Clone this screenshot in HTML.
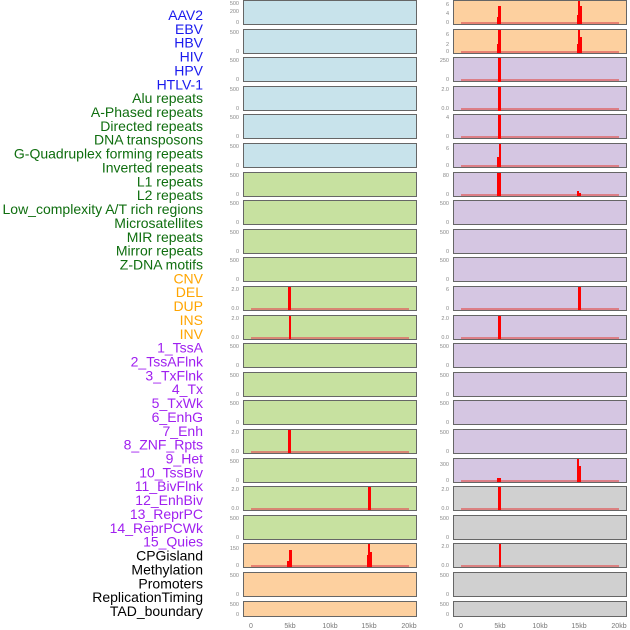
<!DOCTYPE html>
<html><head><meta charset="utf-8"><style>
html,body{margin:0;padding:0;background:#fff;}
svg{display:block;font-family:"Liberation Sans",sans-serif;}
.l{font-size:14px;text-anchor:end;}
.t{font-size:5.5px;fill:#888;text-anchor:end;}
.x{font-size:7px;fill:#777;text-anchor:middle;}
.b{fill:#c8e3eb}.o{fill:#fdd09f}.p{fill:#d5c6e2}.g{fill:#c7e1a0}.y{fill:#d0d0d0}
rect.pn{stroke:#666;stroke-width:1;}
.r{fill:#ff0000}
.bl{stroke:#e06060;stroke-width:2;opacity:.7}
</style></head><body>
<svg width="630" height="630" viewBox="0 0 630 630">
<g class="l">
<text x="203" y="20" fill="#1a1aee">AAV2</text>
<text x="203" y="33.9" fill="#1a1aee">EBV</text>
<text x="203" y="47.7" fill="#1a1aee">HBV</text>
<text x="203" y="61.6" fill="#1a1aee">HIV</text>
<text x="203" y="75.4" fill="#1a1aee">HPV</text>
<text x="203" y="89.3" fill="#1a1aee">HTLV-1</text>
<text x="203" y="103.2" fill="#0f6e0f">Alu repeats</text>
<text x="203" y="117" fill="#0f6e0f">A-Phased repeats</text>
<text x="203" y="130.9" fill="#0f6e0f">Directed repeats</text>
<text x="203" y="144.7" fill="#0f6e0f">DNA transposons</text>
<text x="203" y="158.6" fill="#0f6e0f">G-Quadruplex forming repeats</text>
<text x="203" y="172.5" fill="#0f6e0f">Inverted repeats</text>
<text x="203" y="186.3" fill="#0f6e0f">L1 repeats</text>
<text x="203" y="200.2" fill="#0f6e0f">L2 repeats</text>
<text x="203" y="214" fill="#0f6e0f">Low_complexity A/T rich regions</text>
<text x="203" y="227.9" fill="#0f6e0f">Microsatellites</text>
<text x="203" y="241.8" fill="#0f6e0f">MIR repeats</text>
<text x="203" y="255.6" fill="#0f6e0f">Mirror repeats</text>
<text x="203" y="269.5" fill="#0f6e0f">Z-DNA motifs</text>
<text x="203" y="283.3" fill="#ffa500">CNV</text>
<text x="203" y="297.2" fill="#ffa500">DEL</text>
<text x="203" y="311.1" fill="#ffa500">DUP</text>
<text x="203" y="324.9" fill="#ffa500">INS</text>
<text x="203" y="338.8" fill="#ffa500">INV</text>
<text x="203" y="352.6" fill="#a020f0">1_TssA</text>
<text x="203" y="366.5" fill="#a020f0">2_TssAFlnk</text>
<text x="203" y="380.4" fill="#a020f0">3_TxFlnk</text>
<text x="203" y="394.2" fill="#a020f0">4_Tx</text>
<text x="203" y="408.1" fill="#a020f0">5_TxWk</text>
<text x="203" y="421.9" fill="#a020f0">6_EnhG</text>
<text x="203" y="435.8" fill="#a020f0">7_Enh</text>
<text x="203" y="449.7" fill="#a020f0">8_ZNF_Rpts</text>
<text x="203" y="463.5" fill="#a020f0">9_Het</text>
<text x="203" y="477.4" fill="#a020f0">10_TssBiv</text>
<text x="203" y="491.2" fill="#a020f0">11_BivFlnk</text>
<text x="203" y="505.1" fill="#a020f0">12_EnhBiv</text>
<text x="203" y="519" fill="#a020f0">13_ReprPC</text>
<text x="203" y="532.8" fill="#a020f0">14_ReprPCWk</text>
<text x="203" y="546.7" fill="#a020f0">15_Quies</text>
<text x="203" y="560.5" fill="#000">CPGisland</text>
<text x="203" y="574.4" fill="#000">Methylation</text>
<text x="203" y="588.3" fill="#000">Promoters</text>
<text x="203" y="602.1" fill="#000">ReplicationTiming</text>
<text x="203" y="616" fill="#000">TAD_boundary</text>
</g>
<!-- panels: left x243 w173, right x453 w173 -->
<g>
<rect class="pn b" x="243.5" y="0.5" width="173" height="24"/><rect class="pn o" x="453.5" y="0.5" width="173" height="24"/>
<rect class="pn b" x="243.5" y="29.5" width="173" height="24"/><rect class="pn o" x="453.5" y="29.5" width="173" height="24"/>
<rect class="pn b" x="243.5" y="57.5" width="173" height="24"/><rect class="pn p" x="453.5" y="57.5" width="173" height="24"/>
<rect class="pn b" x="243.5" y="86.5" width="173" height="24"/><rect class="pn p" x="453.5" y="86.5" width="173" height="24"/>
<rect class="pn b" x="243.5" y="114.5" width="173" height="24"/><rect class="pn p" x="453.5" y="114.5" width="173" height="24"/>
<rect class="pn b" x="243.5" y="143.5" width="173" height="24"/><rect class="pn p" x="453.5" y="143.5" width="173" height="24"/>
<rect class="pn g" x="243.5" y="172.5" width="173" height="24"/><rect class="pn p" x="453.5" y="172.5" width="173" height="24"/>
<rect class="pn g" x="243.5" y="200.5" width="173" height="24"/><rect class="pn p" x="453.5" y="200.5" width="173" height="24"/>
<rect class="pn g" x="243.5" y="229.5" width="173" height="24"/><rect class="pn p" x="453.5" y="229.5" width="173" height="24"/>
<rect class="pn g" x="243.5" y="257.5" width="173" height="24"/><rect class="pn p" x="453.5" y="257.5" width="173" height="24"/>
<rect class="pn g" x="243.5" y="286.5" width="173" height="24"/><rect class="pn p" x="453.5" y="286.5" width="173" height="24"/>
<rect class="pn g" x="243.5" y="315.5" width="173" height="24"/><rect class="pn p" x="453.5" y="315.5" width="173" height="24"/>
<rect class="pn g" x="243.5" y="343.5" width="173" height="24"/><rect class="pn p" x="453.5" y="343.5" width="173" height="24"/>
<rect class="pn g" x="243.5" y="372.5" width="173" height="24"/><rect class="pn p" x="453.5" y="372.5" width="173" height="24"/>
<rect class="pn g" x="243.5" y="400.5" width="173" height="24"/><rect class="pn p" x="453.5" y="400.5" width="173" height="24"/>
<rect class="pn g" x="243.5" y="429.5" width="173" height="24"/><rect class="pn p" x="453.5" y="429.5" width="173" height="24"/>
<rect class="pn g" x="243.5" y="458.5" width="173" height="24"/><rect class="pn p" x="453.5" y="458.5" width="173" height="24"/>
<rect class="pn g" x="243.5" y="486.5" width="173" height="24"/><rect class="pn y" x="453.5" y="486.5" width="173" height="24"/>
<rect class="pn g" x="243.5" y="515.5" width="173" height="24"/><rect class="pn y" x="453.5" y="515.5" width="173" height="24"/>
<rect class="pn o" x="243.5" y="543.5" width="173" height="24"/><rect class="pn y" x="453.5" y="543.5" width="173" height="24"/>
<rect class="pn o" x="243.5" y="572.5" width="173" height="24"/><rect class="pn y" x="453.5" y="572.5" width="173" height="24"/>
<rect class="pn o" x="243.5" y="601.5" width="173" height="15"/><rect class="pn y" x="453.5" y="601.5" width="173" height="15"/>
</g>
<!-- baselines -->
<g class="bl">
<line x1="461" x2="619" y1="23" y2="23"/><line x1="461" x2="619" y1="52" y2="52"/>
<line x1="461" x2="619" y1="80" y2="80"/><line x1="461" x2="619" y1="109" y2="109"/>
<line x1="461" x2="619" y1="137" y2="137"/><line x1="461" x2="619" y1="166" y2="166"/>
<line x1="461" x2="619" y1="195" y2="195"/>
<line x1="251" x2="409" y1="309" y2="309"/><line x1="461" x2="619" y1="309" y2="309"/>
<line x1="251" x2="409" y1="338" y2="338"/><line x1="461" x2="619" y1="338" y2="338"/>
<line x1="251" x2="409" y1="452" y2="452"/>
<line x1="461" x2="619" y1="481" y2="481"/>
<line x1="251" x2="409" y1="509" y2="509"/><line x1="461" x2="619" y1="509" y2="509"/>
<line x1="251" x2="409" y1="566" y2="566"/><line x1="461" x2="619" y1="566" y2="566"/>
</g>
<!-- spikes -->
<g class="r">
<rect x="497" y="17" width="2" height="7"/><rect x="498" y="6" width="3" height="18"/>
<rect x="577" y="15" width="2" height="9"/><rect x="578" y="1" width="2" height="23"/><rect x="580" y="6" width="2" height="18"/>
<rect x="497" y="44" width="2" height="9"/><rect x="498" y="30" width="3" height="23"/>
<rect x="577" y="44" width="2" height="9"/><rect x="578" y="30" width="2" height="23"/><rect x="580" y="37" width="2" height="16"/>
<rect x="498" y="58" width="3" height="24"/>
<rect x="498" y="87" width="3" height="24"/>
<rect x="498" y="115" width="3" height="24"/>
<rect x="497" y="157" width="2" height="10"/><rect x="499" y="144" width="2" height="23"/>
<rect x="497" y="173" width="4" height="23"/><rect x="577" y="191" width="2" height="5"/><rect x="579" y="193" width="2" height="3"/>
<rect x="288" y="287" width="3" height="23"/><rect x="578" y="287" width="3" height="23"/>
<rect x="289" y="316" width="2" height="23"/><rect x="498" y="316" width="3" height="23"/>
<rect x="288" y="430" width="3" height="23"/>
<rect x="497" y="478" width="4" height="4"/><rect x="577" y="459" width="2" height="23"/><rect x="579" y="466" width="2" height="16"/>
<rect x="368" y="487" width="3" height="23"/><rect x="498" y="487" width="3" height="23"/>
<rect x="287" y="561" width="2" height="6"/><rect x="289" y="550" width="3" height="17"/>
<rect x="367" y="555" width="2" height="12"/><rect x="368" y="544" width="2" height="23"/><rect x="370" y="552" width="2" height="15"/>
<rect x="499" y="544" width="2" height="23"/>
</g>
<!-- y tick labels (approximate) -->
<g class="t">
<text x="239" y="5">500</text><text x="239" y="13">200</text><text x="239" y="24">0</text>
<text x="449" y="6">6</text><text x="449" y="15">4</text><text x="449" y="24">0</text>
<text x="239" y="34">500</text><text x="239" y="53">0</text><text x="449" y="36">6</text><text x="449" y="46">2</text><text x="449" y="53">0</text>
<text x="239" y="62">500</text><text x="239" y="81">0</text><text x="449" y="62">250</text><text x="449" y="81">0</text>
<text x="239" y="91">500</text><text x="239" y="110">0</text><text x="449" y="91">2.0</text><text x="449" y="110">0.0</text>
<text x="239" y="119">500</text><text x="239" y="138">0</text><text x="449" y="119">4</text><text x="449" y="138">0</text>
<text x="239" y="148">500</text><text x="239" y="167">0</text><text x="449" y="150">6</text><text x="449" y="167">0</text>
<text x="239" y="177">500</text><text x="239" y="196">0</text><text x="449" y="177">80</text><text x="449" y="196">0</text>
<text x="239" y="205">500</text><text x="239" y="224">0</text><text x="449" y="205">500</text><text x="449" y="224">0</text>
<text x="239" y="234">500</text><text x="239" y="253">0</text><text x="449" y="234">500</text><text x="449" y="253">0</text>
<text x="239" y="262">500</text><text x="239" y="281">0</text><text x="449" y="262">500</text><text x="449" y="281">0</text>
<text x="239" y="291">2.0</text><text x="239" y="310">0.0</text><text x="449" y="291">6</text><text x="449" y="310">0</text>
<text x="239" y="320">2.0</text><text x="239" y="339">0.0</text><text x="449" y="320">2.0</text><text x="449" y="339">0.0</text>
<text x="239" y="348">500</text><text x="239" y="367">0</text><text x="449" y="348">500</text><text x="449" y="367">0</text>
<text x="239" y="377">500</text><text x="239" y="396">0</text><text x="449" y="377">500</text><text x="449" y="396">0</text>
<text x="239" y="405">500</text><text x="239" y="424">0</text><text x="449" y="405">500</text><text x="449" y="424">0</text>
<text x="239" y="434">2.0</text><text x="239" y="453">0.0</text><text x="449" y="434">500</text><text x="449" y="453">0</text>
<text x="239" y="463">500</text><text x="239" y="482">0</text><text x="449" y="466">300</text><text x="449" y="482">0</text>
<text x="239" y="491">2.0</text><text x="239" y="510">0.0</text><text x="449" y="491">2.0</text><text x="449" y="510">0.0</text>
<text x="239" y="520">500</text><text x="239" y="539">0</text><text x="449" y="520">500</text><text x="449" y="539">0</text>
<text x="239" y="550">150</text><text x="239" y="567">0</text><text x="449" y="548">2.0</text><text x="449" y="567">0.0</text>
<text x="239" y="577">500</text><text x="239" y="596">0</text><text x="449" y="577">500</text><text x="449" y="596">0</text>
<text x="239" y="606">500</text><text x="239" y="616">0</text><text x="449" y="606">500</text><text x="449" y="616">0</text>
</g>
<g class="x">
<text x="251" y="628">0</text><text x="290" y="628">5kb</text><text x="330" y="628">10kb</text><text x="369" y="628">15kb</text><text x="409" y="628">20kb</text>
<text x="461" y="628">0</text><text x="500" y="628">5kb</text><text x="540" y="628">10kb</text><text x="579" y="628">15kb</text><text x="619" y="628">20kb</text>
</g>
</svg>
</body></html>
